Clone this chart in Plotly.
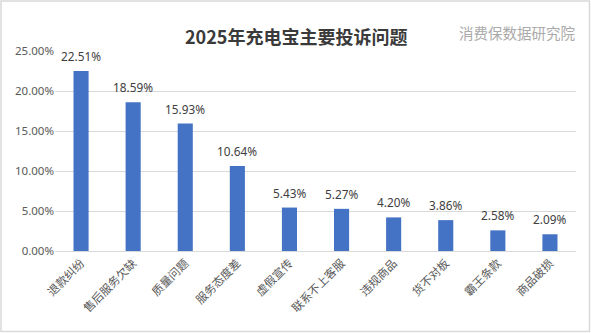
import plotly.graph_objects as go

categories = ["退款纠纷", "售后服务欠缺", "质量问题", "服务态度差", "虚假宣传",
              "联系不上客服", "违规商品", "货不对板", "霸王条款", "商品破损"]
shares = [22.51, 18.59, 15.93, 10.64, 5.43, 5.27, 4.20, 3.86, 2.58, 2.09]
y_ticks = [0, 5, 10, 15, 20, 25]

W, H = 591, 333
ML, MR, MT, MB = 55, 15, 51, 82
PW, PH = W - ML - MR, H - MT - MB

fig = go.Figure(go.Bar(
    x=categories, y=shares,
    marker=dict(color="#4472C4", line=dict(width=0)),
    width=0.29,
))

for c, v in zip(categories, shares):
    fig.add_annotation(x=c, y=v, text=f"{v:.2f}%", showarrow=False,
                       yanchor="bottom", yshift=5,
                       font=dict(family="Noto Sans, DejaVu Sans", size=11.8, color="#404040"))

fig.add_annotation(xref="paper", yref="paper", x=(296 - ML) / PW, y=1 + (MT - 21) / PH,
                   text="<b>2025年充电宝主要投诉问题</b>", showarrow=False,
                   font=dict(family="Noto Sans CJK SC", size=18, color="#3a3a3a"))
fig.add_annotation(xref="paper", yref="paper", x=(577 - ML) / PW, y=1 + (MT - 20) / PH,
                   xanchor="right", text="消费保数据研究院", showarrow=False,
                   font=dict(family="Noto Sans CJK SC", size=14.5, color="#aaaaaa"))

# outer chart frame
fig.add_shape(type="rect", xref="paper", yref="paper",
              x0=(-ML + 1) / PW, x1=1 + (MR - 1.5) / PW,
              y0=-(MB - 1.5) / PH, y1=1 + (MT - 1) / PH,
              line=dict(color="#d9d9d9", width=1.5))

fig.update_layout(
    width=W, height=H,
    margin=dict(l=ML, r=MR, t=MT, b=MB),
    paper_bgcolor="white", plot_bgcolor="white",
    showlegend=False,
    xaxis=dict(tickangle=-45, showgrid=False, showline=True, linecolor="#d9d9d9",
               linewidth=1, ticks="",
               tickfont=dict(family="Noto Sans CJK SC", size=11.5, color="#595959")),
    yaxis=dict(range=[0, 25], tickvals=y_ticks,
               ticktext=[f"{t:.2f}%" for t in y_ticks],
               showgrid=True, gridcolor="#d9d9d9", gridwidth=1, zeroline=False,
               ticks="", ticklen=0,
               tickfont=dict(family="Noto Sans, DejaVu Sans", size=11.5, color="#595959")),
)

fig.write_html("out.html")
